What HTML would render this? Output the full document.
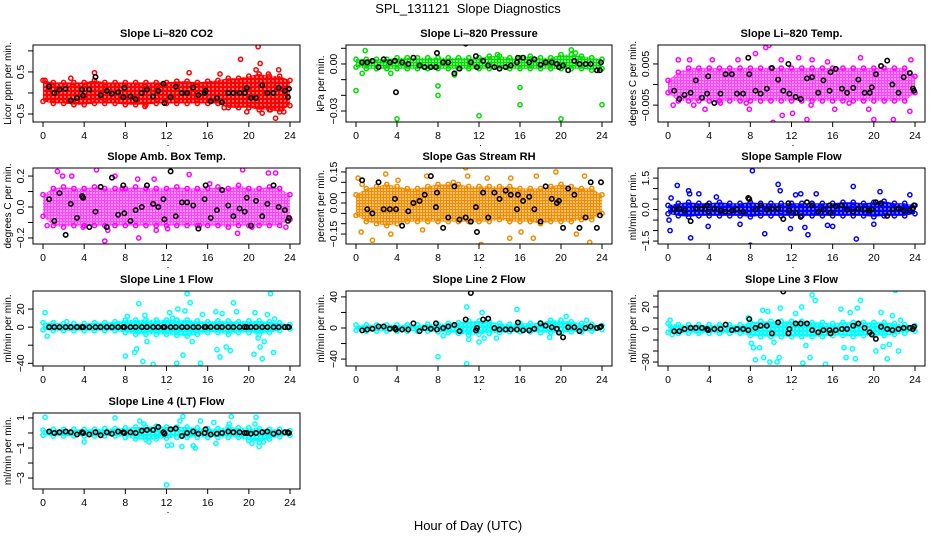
<!DOCTYPE html>
<html><head><meta charset="utf-8">
<style>
html,body{margin:0;padding:0;background:#fff;}
svg{display:block;font-family:"Liberation Sans",sans-serif;}
.ttl{font-size:11px;font-weight:bold;text-anchor:middle;}
.tk{font-size:10.5px;text-anchor:middle;}
.yl{font-size:10px;text-anchor:middle;}
</style></head>
<body>
<svg id="chart" width="936" height="540" viewBox="0 0 936 540">
<defs>
<pattern id="dots" width="4" height="4" patternUnits="userSpaceOnUse"><circle cx="1" cy="1" r="0.7" fill="#fff"/></pattern>
<pattern id="dots2" width="3" height="3" patternUnits="userSpaceOnUse"><circle cx="1" cy="1" r="0.8" fill="#fff"/></pattern>
</defs>
<text x="468" y="13" font-size="13" text-anchor="middle" style="white-space:pre">SPL_131121  Slope Diagnostics</text>
<text x="468" y="530" font-size="13" text-anchor="middle">Hour of Day (UTC)</text>
</svg>
<script>
// shared sample hours for black (summary) points
const blackHours=[0.6,1.1,1.6,2.2,2.7,3.3,3.8,3.9,4.5,5.1,5.6,6.2,6.7,7.3,7.8,7.9,8.5,9.0,9.6,10.1,10.7,11.2,11.7,11.8,12.4,12.9,13.5,14.0,14.6,15.1,15.7,15.8,16.3,16.9,17.4,18.0,18.5,19.1,19.6,19.8,20.2,20.7,21.3,21.8,22.4,22.9,23.5,23.8,23.9];
const xTicks=[0,4,8,12,16,20,24];
const bandHours=[0,1,2,3,4,5,6,7,8,9,10,11,12,13,14,15,16,17,18,19,20,21,22,23,24];

// Panel 1: CO2
const co2Black=[0.15,0.0,0.08,0.1,-0.18,-0.12,0.08,-0.06,0.08,0.38,-0.05,0.05,-0.02,0.02,-0.1,0.12,-0.08,-0.15,0.0,0.08,-0.08,0.05,0.22,-0.24,-0.1,0.15,0.0,0.0,0.13,-0.05,0.0,0.05,-0.2,-0.12,-0.22,0.0,0.0,0.0,0.0,0.12,-0.12,-0.12,0.18,0.0,0.0,0.12,0.05,-0.1,0.1];
const co2Hi=[0.3,0.25,0.25,0.25,0.25,0.3,0.25,0.25,0.25,0.25,0.25,0.25,0.25,0.28,0.28,0.25,0.28,0.3,0.35,0.35,0.4,0.45,0.4,0.4,0.3];
const co2Lo=[-0.2,-0.25,-0.25,-0.28,-0.28,-0.25,-0.25,-0.25,-0.28,-0.28,-0.28,-0.25,-0.25,-0.25,-0.25,-0.25,-0.25,-0.25,-0.35,-0.35,-0.35,-0.4,-0.4,-0.45,-0.3];
const co2Out=[[20.9,1.1],[19.2,0.8],[21.1,0.7],[22.6,-0.6],[14.2,0.48],[5,0.48],[9.9,-0.32],[17.6,-0.35],[21.3,-0.48],[22.1,-0.4],[19.8,-0.45],[23.4,-0.45],[20.7,0.55],[22.9,0.55],[17.2,0.45],[2.7,0.35],[0.2,0.3],[18.8,-0.3],[23.2,-0.38],[21.9,0.45]];
const co2Ticks=[-0.5,0,0.5,1.0]; const co2Labels=["-0.5","","0.5",""];

// Panel 2: pressure
const presBlack=[0.001,0.001,0.002,-0.002,0.003,0.001,0.002,-0.018,0.001,0.0,0.004,-0.001,-0.002,-0.002,-0.002,0.007,0.001,0.001,-0.006,-0.003,0.013,0.001,0.005,-0.002,0.002,-0.001,-0.002,-0.003,-0.002,-0.001,0.001,0.004,0.004,0.001,0.003,-0.0005,0.001,0.001,0.0,-0.002,-0.001,-0.004,0.002,0.0,0.0,0.0,-0.004,-0.004,0.001];
const presHi=[0.003,0.003,0.003,0.003,0.004,0.004,0.004,0.004,0.004,0.004,0.004,0.004,0.004,0.005,0.005,0.004,0.004,0.005,0.004,0.004,0.006,0.006,0.005,0.004,0.003];
const presLo=[-0.002,-0.003,-0.003,-0.003,-0.003,-0.003,-0.003,-0.003,-0.003,-0.003,-0.003,-0.003,-0.003,-0.003,-0.003,-0.003,-0.003,-0.003,-0.003,-0.003,-0.003,-0.003,-0.003,-0.004,-0.003];
const presOut=[[0,-0.017],[0.9,0.0085],[0.6,-0.006],[4,-0.035],[8,-0.014],[8,-0.02],[12,-0.033],[16,-0.015],[16,-0.026],[20,-0.035],[24,-0.026],[21,0.009],[13.8,0.006],[3.4,-0.006],[9.6,-0.007],[21.4,0.007]];
const presTicks=[-0.03,-0.02,-0.01,0,0.01]; const presLabels=["-0.03","","","0.00",""];

// Panel 3: Li-820 temp
const ltBlack=[-0.0015,-0.0035,-0.0025,-0.002,0.001,-0.0032,-0.0022,0.002,-0.0045,-0.0022,0.0025,0.0025,-0.0022,-0.0022,0.0065,0.0025,-0.0015,-0.0022,-0.001,0.004,0.0012,-0.0015,0.005,-0.0022,-0.003,-0.0035,0.0015,0.0018,-0.002,0.001,-0.0015,0.003,0.0038,-0.001,-0.002,-0.0008,0.0012,-0.002,-0.002,-0.0007,0.0025,0.0045,0.0058,0.0,-0.002,0.0018,0.0028,-0.001,-0.0015];
const ltHi=[0.001,0.003,0.004,0.004,0.004,0.004,0.004,0.004,0.004,0.004,0.004,0.004,0.004,0.004,0.004,0.004,0.004,0.004,0.004,0.004,0.004,0.004,0.004,0.004,0.002];
const ltLo=[-0.002,-0.004,-0.004,-0.004,-0.004,-0.004,-0.004,-0.004,-0.004,-0.004,-0.004,-0.004,-0.004,-0.004,-0.004,-0.004,-0.004,-0.004,-0.004,-0.004,-0.004,-0.004,-0.004,-0.004,-0.002];
const ltOut=[[0.5,-0.005],[1,0.006],[2.5,-0.005],[3.6,-0.006],[4.3,0.006],[6.8,0.006],[7.6,-0.0045],[7.9,-0.006],[8.5,0.0075],[9.5,0.009],[9.8,0.0095],[10.2,-0.0092],[11.1,-0.0075],[12.1,-0.007],[12.7,0.0065],[13.5,-0.0085],[13.9,-0.005],[15.5,0.0055],[16.2,-0.006],[18.7,0.0065],[19.5,-0.006],[20,-0.0085],[21.9,-0.0085],[23.5,-0.0065],[23.6,0.006],[2.1,0.006],[5.1,-0.0045],[17.6,-0.0045],[14,0.006],[11,0.006]];
const ltTicks=[-0.005,0,0.005]; const ltLabels=["-0.005","","0.005"];

// Panel 4: amb box temp
const abBlack=[0.05,-0.09,0.09,-0.18,0.02,-0.07,0.07,0.06,-0.13,-0.03,0.13,-0.13,0.19,-0.05,0.14,-0.04,-0.09,-0.02,0.0,0.14,0.02,0.0,0.05,-0.08,0.23,-0.06,0.03,0.03,0.01,-0.14,0.05,0.14,-0.07,-0.02,0.11,0.01,-0.06,-0.01,-0.03,0.06,-0.12,0.04,-0.06,0.02,0.14,0.0,-0.02,-0.09,-0.07];
const abHi=[0.08,0.12,0.13,0.12,0.12,0.13,0.12,0.12,0.12,0.13,0.12,0.12,0.12,0.13,0.12,0.12,0.12,0.13,0.12,0.14,0.12,0.12,0.13,0.12,0.08];
const abLo=[-0.06,-0.12,-0.13,-0.12,-0.12,-0.12,-0.12,-0.12,-0.12,-0.12,-0.12,-0.12,-0.12,-0.12,-0.12,-0.12,-0.12,-0.12,-0.13,-0.12,-0.12,-0.12,-0.12,-0.12,-0.08];
const abOut=[[1.4,0.23],[1.9,0.2],[2.8,0.2],[5.2,0.24],[6,-0.22],[6.3,-0.15],[7,0.2],[9.2,0.18],[9.3,-0.2],[10.8,0.18],[11,-0.15],[12.1,-0.14],[14.2,0.21],[15.2,-0.12],[18.9,-0.17],[19.4,0.24],[21.9,0.22],[22.6,0.22],[23.6,-0.13],[0.4,-0.12],[3.9,-0.13],[7.7,0.12],[16.2,0.15],[20.3,-0.13]];
const abTicks=[-0.2,-0.1,0,0.1,0.2]; const abLabels=["-0.2","","0.0","","0.2"];

// Panel 5: gas stream RH
const rhBlack=[0.11,-0.03,-0.05,0.1,-0.03,-0.03,0.02,-0.03,-0.11,-0.04,0.0,0.01,0.04,0.13,-0.02,0.05,-0.12,-0.07,0.08,-0.08,-0.07,-0.09,-0.02,-0.14,0.05,-0.07,0.05,0.02,0.06,0.04,-0.03,0.04,0.01,0.03,-0.03,-0.09,0.08,0.02,0.0,0.01,-0.12,0.07,0.04,-0.12,-0.07,0.1,-0.12,-0.06,0.1];
const rhHi=[0.04,0.07,0.08,0.09,0.08,0.07,0.07,0.08,0.09,0.09,0.09,0.08,0.08,0.08,0.08,0.08,0.07,0.07,0.07,0.08,0.09,0.08,0.07,0.07,0.04];
const rhLo=[-0.06,-0.09,-0.1,-0.11,-0.1,-0.09,-0.09,-0.09,-0.09,-0.09,-0.09,-0.09,-0.09,-0.09,-0.08,-0.09,-0.09,-0.09,-0.1,-0.09,-0.09,-0.09,-0.08,-0.08,-0.05];
const rhOut=[[0.2,0.12],[0.5,-0.14],[1.6,-0.18],[2.2,-0.23],[2.9,0.14],[3.4,-0.15],[6.5,-0.13],[6.9,0.13],[10.7,0.17],[10.9,0.13],[12.2,-0.2],[12.8,0.12],[15,-0.17],[15.1,0.12],[16.1,-0.14],[17.3,-0.17],[17.6,0.13],[18.6,-0.22],[19.5,0.15],[21.5,-0.15],[22.3,0.13],[22.8,-0.19],[0.6,0.09],[4.1,0.11],[9.5,0.1]];
const rhTicks=[-0.15,-0.1,-0.05,0,0.05,0.1,0.15]; const rhLabels=["-0.15","","","0.00","","","0.15"];

// Panel 6: sample flow
const sfBlack=[0.0,0.05,-0.05,-0.55,0.05,0.05,0.2,-0.1,0.05,-0.05,-0.1,-0.05,0.0,-0.1,0.55,0.5,0.0,0.2,0.0,0.05,0.05,-0.45,0.3,-0.05,-0.15,-0.35,0.35,0.2,-0.1,0.0,0.2,-0.15,0.15,0.2,0.0,-0.1,0.05,0.0,-0.05,0.0,0.35,0.3,-0.3,0.0,0.05,-0.05,-0.05,0.05,0.2];
const sfHi=[0.2,0.3,0.35,0.3,0.3,0.35,0.3,0.3,0.35,0.3,0.3,0.3,0.3,0.3,0.3,0.3,0.3,0.35,0.35,0.3,0.35,0.4,0.3,0.3,0.2];
const sfLo=[-0.2,-0.3,-0.35,-0.3,-0.3,-0.3,-0.3,-0.3,-0.35,-0.3,-0.3,-0.3,-0.3,-0.3,-0.3,-0.3,-0.3,-0.3,-0.3,-0.3,-0.35,-0.3,-0.3,-0.3,-0.2];
const sfOut=[[0.1,-0.5],[0.2,-1.0],[0.3,0.55],[0.9,1.15],[2,0.9],[2.1,0.75],[2.2,-1.35],[3.0,0.75],[3.9,-0.8],[4.7,0.6],[7.0,-0.7],[8.0,-1.7],[8.2,1.85],[9.4,-1.15],[10.7,1.2],[10.9,0.9],[11.9,-0.9],[12.4,0.7],[13.3,-0.85],[13.6,-1.2],[14.4,0.75],[15.5,-0.75],[16.0,-0.8],[18,1.1],[18.3,-1.4],[20,-0.7],[20.6,0.85],[23.5,0.7],[12.9,0.75]];
const sfTicks=[-1.5,-1,-0.5,0,0.5,1,1.5]; const sfLabels=["-1.5","","","0.0","","","1.5"];

// Panel 7: line 1 flow
const l1Black=[0,0,0,0,0,0,0,0,0,0,0,0,0,0,0,0,0,0,0,0,0,0,0,0,0,0,0,0,0,0,0,0,0,0,0,0,0,0,0,0,0,0,0,0,0,0,0,0,0];
const l1Hi=[5,5,4,4,4,5,5,6,8,8,8,8,8,8,8,7,6,7,7,6,7,7,6,5,3];
const l1Lo=[-3,-4,-4,-4,-4,-4,-4,-4,-6,-8,-8,-8,-8,-9,-10,-8,-6,-6,-8,-6,-6,-8,-6,-4,-2];
const l1Out=[[0.2,16],[0.4,-10],[2.3,6],[8,-32],[8.2,12],[8.9,-28],[9.1,-24],[9.3,26],[9.7,-38],[9.9,13],[10.1,-16],[10.7,-41],[12.3,16],[12.6,10],[13,-40],[13.1,20],[13.6,-31],[13.8,18],[14,37],[14.3,27],[14.5,-16],[15.3,-40],[15.5,14],[16.8,17],[16.9,-25],[17.2,-33],[17.4,15],[17.8,-22],[18.2,-26],[18.5,27],[18.8,17],[20.5,-30],[20.6,16],[20.9,-12],[21.1,-22],[21.3,-35],[21.5,-16],[21.8,14],[22.1,37],[22.4,-28],[22.5,9]];
const l1Ticks=[-40,-20,0,20]; const l1Labels=["-40","","0","20"];

// Panel 8: line 2 flow
const l2Black=[-3,-2,-1,2,2,-1,0,-2,-2,-2,6,-4,0,-1,6,-2,0,2,4,-4,11,45,-3,0,11,12,0,-2,-2,-2,-2,7,-3,-3,-1,6,3,1,-1,-6,-12,1,1,-4,0,2,0,1,2];
const l2Hi=[4,4,4,4,4,4,4,5,5,6,7,9,9,8,6,5,6,6,7,10,10,8,6,5,3];
const l2Lo=[-3,-4,-4,-4,-4,-4,-4,-4,-5,-6,-7,-9,-8,-7,-6,-5,-5,-5,-6,-6,-6,-5,-5,-4,-2];
const l2Out=[[8,-37],[10.8,27],[10.8,-46],[11,-15],[12,-18],[12.3,20],[15.7,24],[12.5,-13],[13.7,-13],[20.5,15],[22.5,10],[18.9,-12],[8.5,-10]];
const l2Ticks=[-40,-20,0,20,40]; const l2Labels=["-40","","0","","40"];

// Panel 9: line 3 flow
const l3Black=[-2,-2,0,1,1,1,0,-1,0,0,4,-1,0,0,-1,9,1,3,3,-4,6,34,-4,0,5,5,5,-1,-3,-1,-1,-4,-1,0,0,3,5,1,-3,-5,-9,2,0,-1,0,1,1,0,2];
const l3Hi=[5,4,4,4,4,4,4,4,6,7,7,7,7,7,6,6,5,6,6,6,6,6,5,4,3];
const l3Lo=[-3,-4,-4,-4,-4,-4,-4,-4,-6,-7,-7,-7,-7,-7,-7,-7,-6,-6,-7,-6,-6,-6,-5,-4,-2];
const l3Out=[[0.2,8],[0.4,-5],[7.8,10],[8.1,-13],[8.3,-17],[8.5,-28],[8.9,-17],[9.2,17],[9.3,-26],[9.7,16],[9.9,-30],[10.3,-12],[10.6,-30],[10.8,-26],[10.9,19],[12.4,14],[13,20],[13.1,-31],[13.4,-15],[13.8,-26],[14,31],[14.3,26],[15.3,-32],[16.8,18],[17.1,-17],[17.3,-26],[17.7,15],[17.9,-18],[18.2,-27],[18.4,19],[18.7,26],[20.2,-20],[20.7,15],[20.9,-16],[21.3,-27],[21.5,-14],[21.8,12],[22.1,35],[22.4,-20],[22.6,8]];
const l3Ticks=[-30,-20,-10,0,10,20,30]; const l3Labels=["-30","","","0","","20",""];

// Panel 10: line 4 (LT) flow
const l4Black=[0.1,0,0.05,0.1,0.05,-0.1,0.05,0,-0.1,0.05,-0.15,0.05,-0.05,0.1,0.05,0,0.05,0,0.15,0.2,0.2,0.4,0.05,-0.05,0.25,0.3,-0.2,0,0.1,-0.05,0,0.25,-0.1,-0.05,0,0.1,0.05,0.05,0,0,-0.05,0,0.05,0.1,-0.05,0.05,0.05,0.05,0];
const l4Hi=[0.2,0.25,0.25,0.25,0.25,0.25,0.3,0.3,0.35,0.4,0.4,0.45,0.4,0.4,0.4,0.35,0.3,0.3,0.4,0.35,0.35,0.3,0.25,0.25,0.15];
const l4Lo=[-0.15,-0.2,-0.2,-0.2,-0.2,-0.2,-0.2,-0.2,-0.3,-0.4,-0.45,-0.4,-0.35,-0.3,-0.3,-0.3,-0.3,-0.3,-0.3,-0.3,-0.5,-0.6,-0.4,-0.25,-0.15];
const l4Out=[[0.2,1.05],[4,-0.6],[7,1.0],[9.4,0.8],[9.8,0.6],[10.3,-0.6],[12.1,-0.85],[12.5,-0.8],[12,-3.45],[13.3,0.8],[13.6,1.1],[13.5,-0.9],[14.6,-0.85],[14.8,-1],[15.3,0.8],[16.6,0.7],[16.8,-0.7],[18.3,1.1],[18.1,0.6],[20.7,1.05],[20.6,0.6],[20.3,-0.7],[21,-0.9],[21.4,-0.6]];
const l4Ticks=[-3,-2,-1,0,1]; const l4Labels=["-3","","-1","","1"];

const NS="http://www.w3.org/2000/svg";
const svg=document.getElementById('chart');
function mk(tag,attrs,parent){const e=document.createElementNS(NS,tag);for(const k in attrs)e.setAttribute(k,attrs[k]);(parent||svg).appendChild(e);return e;}

const colX=[[33,300],[346,612],[658,925]];
const rowY=[[45,122],[168,244],[291,366],[413,489]];

const panels=[
 {id:'co2',title:'Slope Li\u2013820 CO2',ylab:'Licor ppm per min.',r:0,c:0,dom:[-0.69,1.14],col:'#ff0000',pat:'dots',black:co2Black,hi:co2Hi,lo:co2Lo,out:co2Out,ticks:co2Ticks,labels:co2Labels},
 {id:'pressure',title:'Slope Li\u2013820 Pressure',ylab:'kPa per min.',r:0,c:1,dom:[-0.037,0.0121],col:'#00dd00',pat:'dots2',black:presBlack,hi:presHi,lo:presLo,out:presOut,ticks:presTicks,labels:presLabels},
 {id:'li-temp',title:'Slope Li\u2013820 Temp.',ylab:'degrees C per min.',r:0,c:2,dom:[-0.0091,0.0096],col:'#ff00ff',pat:'dots2',light:true,black:ltBlack,hi:ltHi,lo:ltLo,out:ltOut,ticks:ltTicks,labels:ltLabels},
 {id:'amb-temp',title:'Slope Amb. Box Temp.',ylab:'degrees C per min.',r:1,c:0,dom:[-0.239,0.252],col:'#ff00ff',pat:'dots2',light:true,black:abBlack,hi:abHi,lo:abLo,out:abOut,ticks:abTicks,labels:abLabels},
 {id:'rh',title:'Slope Gas Stream RH',ylab:'percent per min.',r:1,c:1,dom:[-0.198,0.169],col:'#f08c00',pat:'dots2',black:rhBlack,hi:rhHi,lo:rhLo,out:rhOut,ticks:rhTicks,labels:rhLabels},
 {id:'sample-flow',title:'Slope Sample Flow',ylab:'ml/min per min.',r:1,c:2,dom:[-1.64,1.98],col:'#0000ff',pat:'dots',black:sfBlack,hi:sfHi,lo:sfLo,out:sfOut,ticks:sfTicks,labels:sfLabels},
 {id:'line1',title:'Slope Line 1 Flow',ylab:'ml/min per min.',r:2,c:0,dom:[-43,40],col:'#00ffff',pat:'dots',black:l1Black,hi:l1Hi,lo:l1Lo,out:l1Out,ticks:l1Ticks,labels:l1Labels},
 {id:'line2',title:'Slope Line 2 Flow',ylab:'ml/min per min.',r:2,c:1,dom:[-48.9,47.6],col:'#00ffff',pat:'dots',black:l2Black,hi:l2Hi,lo:l2Lo,out:l2Out,ticks:l2Ticks,labels:l2Labels},
 {id:'line3',title:'Slope Line 3 Flow',ylab:'ml/min per min.',r:2,c:2,dom:[-33.6,34.5],col:'#00ffff',pat:'dots',black:l3Black,hi:l3Hi,lo:l3Lo,out:l3Out,ticks:l3Ticks,labels:l3Labels},
 {id:'line4',title:'Slope Line 4 (LT) Flow',ylab:'ml/min per min.',r:3,c:0,dom:[-3.73,1.33],col:'#00ffff',pat:'dots',black:l4Black,hi:l4Hi,lo:l4Lo,out:l4Out,ticks:l4Ticks,labels:l4Labels}
];

panels.forEach(p=>{
  const [x0,x1]=colX[p.c],[y0,y1]=rowY[p.r];
  const g=mk('g',{});
  
  
  const X=h=>x0+10+(h/24)*(x1-x0-20);
  const Y=v=>y1-(v-p.dom[0])/(p.dom[1]-p.dom[0])*(y1-y0);
  const cp='clip-'+p.id;
  const cl=mk('clipPath',{id:cp},g); mk('rect',{x:x0,y:y0,width:x1-x0,height:y1-y0},cl);
  const plot=mk('g',{'clip-path':'url(#'+cp+')'},g);
  let d='';
  bandHours.forEach((h,i)=>{d+=(i?'L':'M')+X(h).toFixed(1)+' '+Y(p.hi[i]).toFixed(1);});
  for(let i=bandHours.length-1;i>=0;i--)d+='L'+X(bandHours[i]).toFixed(1)+' '+Y(p.lo[i]).toFixed(1);
  d+='Z';
  const band=mk('path',{d:d,fill:p.col,'fill-opacity':p.light?0.75:1},plot);
  
  
  const bp=mk('path',{d:d,fill:'url(#'+p.pat+')'},plot);
  
  
  bandHours.forEach((h,i)=>{
    [p.hi[i],p.lo[i]].forEach(v=>{
      const c=mk('circle',{cx:X(h),cy:Y(v),r:2.1,fill:'none',stroke:p.col,'stroke-width':1.5},plot);
      
      
    });
  });
  p.out.forEach(o=>{
    const c=mk('circle',{cx:X(o[0]),cy:Y(o[1]),r:2.1,fill:'none',stroke:p.col,'stroke-width':1.5},plot);
    
    
  });
  p.black.forEach((v,i)=>{
    if(i>=blackHours.length)return;
    const c=mk('circle',{cx:X(blackHours[i]),cy:Y(v),r:2.2,fill:'none',stroke:'#000','stroke-width':1.6},plot);
    
    
  });
  const fr=mk('rect',{x:x0,y:y0,width:x1-x0,height:y1-y0,fill:'none',stroke:'#000','stroke-width':1},g);
  
  
  const t=mk('text',{x:(x0+x1)/2,y:y0-8,class:'ttl'},g); t.textContent=p.title;
  
  
  xTicks.forEach(h=>{
    mk('line',{x1:X(h),x2:X(h),y1:y1,y2:y1+5,stroke:'#000'},g);
    const tl=mk('text',{x:X(h),y:y1+17,class:'tk'},g); tl.textContent=h;
    
    
  });
  mk('rect',{x:X(12)+1,y:y1+23,width:1,height:1,fill:'#000'},g);
  p.ticks.forEach((v,i)=>{
    const yy=Y(v);
    mk('line',{x1:x0-5,x2:x0,y1:yy,y2:yy,stroke:'#000'},g);
    if(p.labels[i]){
      const tl=mk('text',{x:x0-9,y:yy,class:'tk',transform:'rotate(-90 '+(x0-9)+' '+yy+')'},g);
      tl.textContent=p.labels[i].replace('-','\u2212');
      
      
    }
  });
  const yc=(y0+y1)/2;
  const yl=mk('text',{x:x0-22,y:yc,class:'yl',transform:'rotate(-90 '+(x0-22)+' '+yc+')'},g);
  yl.textContent=p.ylab;
  
  
});
</script>
</body></html>
